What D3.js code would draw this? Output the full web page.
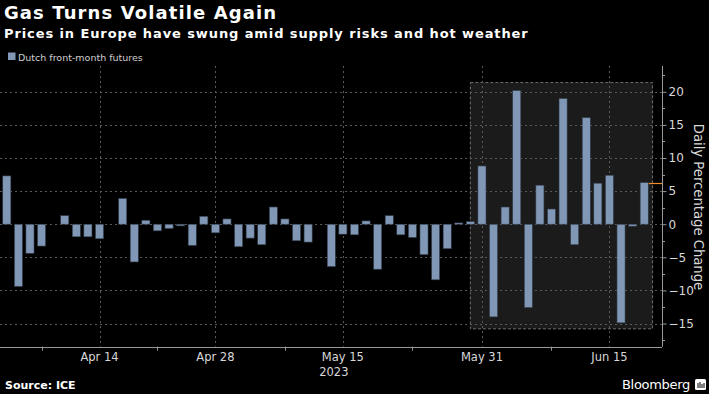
<!DOCTYPE html>
<html>
<head>
<meta charset="utf-8">
<script src="https://cdn.jsdelivr.net/npm/d3@7"></script>
<style>
  html, body { margin: 0; padding: 0; background: #000; }
  svg { display: block; }
</style>
</head>
<body>
<svg id="chart" width="709" height="394"></svg>
<script>
const dates = [
  "2023-04-04","2023-04-05","2023-04-06","2023-04-07","2023-04-10","2023-04-11","2023-04-12","2023-04-13",
  "2023-04-14","2023-04-17","2023-04-18","2023-04-19","2023-04-20","2023-04-21","2023-04-24","2023-04-25",
  "2023-04-26","2023-04-27","2023-04-28","2023-05-01","2023-05-02","2023-05-03","2023-05-04","2023-05-05",
  "2023-05-08","2023-05-09","2023-05-10","2023-05-11","2023-05-12","2023-05-15","2023-05-16","2023-05-17",
  "2023-05-18","2023-05-19","2023-05-22","2023-05-23","2023-05-24","2023-05-25","2023-05-26","2023-05-29",
  "2023-05-30","2023-05-31","2023-06-01","2023-06-02","2023-06-05","2023-06-06","2023-06-07","2023-06-08",
  "2023-06-09","2023-06-12","2023-06-13","2023-06-14","2023-06-15","2023-06-16","2023-06-19","2023-06-20"
];
const dutchFrontMonth = [
  7.3, -9.4, -4.4, -3.3, 0, 1.3, -1.9, -1.9,
  -2.2, 0, 3.9, -5.7, 0.6, -1.0, -0.65, -0.25,
  -3.2, 1.2, -1.3, 0.8, -3.4, -2.1, -3.1, 2.6,
  0.8, -2.5, -2.7, 0, -6.4, -1.5, -1.6, 0.5,
  -6.8, 1.3, -1.6, -2.0, -4.6, -8.4, -3.7, 0.2,
  0.4, 8.8, -14.0, 2.6, 20.2, -12.6, 5.9, 2.3,
  19.0, -3.1, 16.1, 6.2, 7.4, -14.9, -0.3, 6.3
];
const majorTickDates = ["2023-04-14","2023-04-28","2023-05-15","2023-05-31","2023-06-15"];
const majorTickLabels = ["Apr 14","Apr 28","May 15","May 31","Jun 15"];
const minorTickDates = ["2023-04-07","2023-04-21","2023-05-08","2023-05-23","2023-06-08"];
const yearLabel = "2023";
const yTicks = [-15, -10, -5, 0, 5, 10, 15, 20];
const yMinorTicks = [-17.5, -12.5, -7.5, -2.5, 2.5, 7.5, 12.5, 17.5, 22.5];
const highlightStart = "2023-05-30";
const highlightRange = [-15.8, 21.4];

const title = "Gas Turns Volatile Again";
const subtitle = "Prices in Europe have swung amid supply risks and hot weather";
const legendLabel = "Dutch front-month futures";
const yAxisTitle = "Daily Percentage Change";
const sourceText = "Source: ICE";

const svg = d3.select("#chart");
const plot = { left: 0, right: 662, top: 66, bottom: 346.7 };

const x = d3.scaleBand().domain(dates).range([1, 650]).paddingInner(0.3).paddingOuter(0.15);
const y = d3.scaleLinear().domain([-18.5, 23.9]).range([plot.bottom, plot.top]);
const cx = d => x(d) + x.bandwidth() / 2;

const barColor = "#8098b6";
const gridColor = "#5a5a5a";
const textColor = "#d8d8d8";

svg.append("rect").attr("width", 709).attr("height", 394).attr("fill", "#000");

// highlight area
svg.append("rect")
  .attr("x", cx(highlightStart))
  .attr("y", y(highlightRange[1]))
  .attr("width", (x(dates[dates.length - 1]) + x.step() * 1.07) - cx(highlightStart))
  .attr("height", y(highlightRange[0]) - y(highlightRange[1]))
  .attr("fill", "#1b1b1b")
  .attr("stroke", "#6e6e6e")
  .attr("stroke-width", 1)
  .attr("stroke-dasharray", "3,2");

// horizontal gridlines
svg.append("g").selectAll("line").data(yTicks).join("line")
  .attr("x1", plot.left).attr("x2", plot.right)
  .attr("y1", d => Math.round(y(d)) + 0.5).attr("y2", d => Math.round(y(d)) + 0.5)
  .attr("stroke", gridColor).attr("stroke-width", 1).attr("stroke-dasharray", "2,3");

// vertical gridlines
svg.append("g").selectAll("line").data(majorTickDates).join("line")
  .attr("x1", d => Math.round(cx(d)) + 0.5).attr("x2", d => Math.round(cx(d)) + 0.5)
  .attr("y1", plot.top).attr("y2", plot.bottom)
  .attr("stroke", gridColor).attr("stroke-width", 1).attr("stroke-dasharray", "2,3");

// bars
svg.append("g").selectAll("rect").data(dates.map((d, i) => ({ d, v: dutchFrontMonth[i] }))).join("rect")
  .attr("x", d => x(d.d))
  .attr("width", x.bandwidth())
  .attr("y", d => y(Math.max(0, d.v)))
  .attr("height", d => Math.abs(y(d.v) - y(0)))
  .attr("fill", barColor)
  .attr("stroke", "#2e3845")
  .attr("stroke-width", 0.6);

// last value marker line
const lastDate = dates[dates.length - 1];
const lastVal = dutchFrontMonth[dutchFrontMonth.length - 1];
svg.append("line")
  .attr("x1", x(lastDate) + x.bandwidth() + 0.5).attr("x2", plot.right)
  .attr("y1", Math.round(y(lastVal)) + 0.5).attr("y2", Math.round(y(lastVal)) + 0.5)
  .attr("stroke", "#f28c28").attr("stroke-width", 1.2);

// bottom axis
const xAxis = d3.axisBottom(x).tickValues(majorTickDates).tickSize(0).tickPadding(6)
  .tickFormat(d => majorTickLabels[majorTickDates.indexOf(d)]);
const gx = svg.append("g").attr("transform", `translate(0,${plot.bottom})`).call(xAxis);
gx.select(".domain").remove();
gx.selectAll("text").attr("fill", textColor).attr("font-family", "DejaVu Sans").attr("font-size", 11.5);
svg.append("line").attr("x1", 0).attr("x2", plot.right)
  .attr("y1", Math.round(plot.bottom) + 0.5).attr("y2", Math.round(plot.bottom) + 0.5)
  .attr("stroke", "#9a9a9a").attr("stroke-width", 1);
svg.append("g").selectAll("line").data(minorTickDates).join("line")
  .attr("x1", d => Math.round(cx(d)) + 0.5).attr("x2", d => Math.round(cx(d)) + 0.5)
  .attr("y1", plot.bottom).attr("y2", plot.bottom + 4)
  .attr("stroke", "#9a9a9a");
svg.append("text").text(yearLabel)
  .attr("x", cx("2023-05-15") - 9).attr("y", 376)
  .attr("text-anchor", "middle").attr("fill", textColor)
  .attr("font-family", "DejaVu Sans").attr("font-size", 11.5);

// right axis
const yAxis = d3.axisRight(y).tickValues(yTicks).tickSize(4).tickPadding(2).tickFormat(d3.format("d"));
const gy = svg.append("g").attr("transform", `translate(${plot.right + 0.5},0)`).call(yAxis);
gy.select(".domain").attr("stroke", "#9a9a9a").attr("d", `M0,${plot.top}V${plot.bottom}`);
gy.selectAll(".tick line").attr("stroke", "#9a9a9a");
gy.selectAll("text").attr("fill", textColor).attr("font-family", "DejaVu Sans").attr("font-size", 12);
svg.append("g").selectAll("line").data(yMinorTicks).join("line")
  .attr("x1", plot.right).attr("x2", plot.right + 3)
  .attr("y1", d => Math.round(y(d)) + 0.5).attr("y2", d => Math.round(y(d)) + 0.5)
  .attr("stroke", "#9a9a9a");

svg.append("text").text(yAxisTitle)
  .attr("transform", `translate(694,${207}) rotate(90)`)
  .attr("text-anchor", "middle").attr("fill", textColor)
  .attr("font-family", "DejaVu Sans").attr("font-size", 13.2);

// titles
svg.append("text").text(title).attr("x", 4).attr("y", 18.5)
  .attr("fill", "#fff").attr("font-family", "DejaVu Sans").attr("font-weight", "bold")
  .attr("font-size", 18).attr("letter-spacing", 1.1);
svg.append("text").text(subtitle).attr("x", 4).attr("y", 37.5)
  .attr("fill", "#fff").attr("font-family", "DejaVu Sans").attr("font-weight", "bold")
  .attr("font-size", 13).attr("letter-spacing", 0.9);

// legend
svg.append("rect").attr("x", 8).attr("y", 52.5).attr("width", 7.5).attr("height", 7.5).attr("fill", barColor);
svg.append("text").text(legendLabel).attr("x", 18).attr("y", 60.5)
  .attr("fill", "#cfcfcf").attr("font-family", "DejaVu Sans").attr("font-size", 9.5);

// footer
svg.append("text").text(sourceText).attr("x", 5).attr("y", 389)
  .attr("fill", "#fff").attr("font-family", "DejaVu Sans").attr("font-weight", "bold").attr("font-size", 11);
svg.append("text").text("Bloomberg").attr("x", 690).attr("y", 388.5).attr("text-anchor", "end")
  .attr("fill", "#fff").attr("font-family", "DejaVu Sans").attr("font-size", 13).attr("letter-spacing", -0.3);
const logo = svg.append("g").attr("transform", "translate(695,379)");
logo.append("rect").attr("width", 11).attr("height", 11).attr("rx", 1.5).attr("fill", "#fff");
logo.selectAll("line").data([[3, 4, 9], [5, 3, 9], [7, 5, 9], [9, 4, 9]]).join("line")
  .attr("x1", d => d[0]).attr("x2", d => d[0]).attr("y1", d => d[1]).attr("y2", d => d[2])
  .attr("stroke", "#000").attr("stroke-width", 1);
</script>
</body>
</html>
